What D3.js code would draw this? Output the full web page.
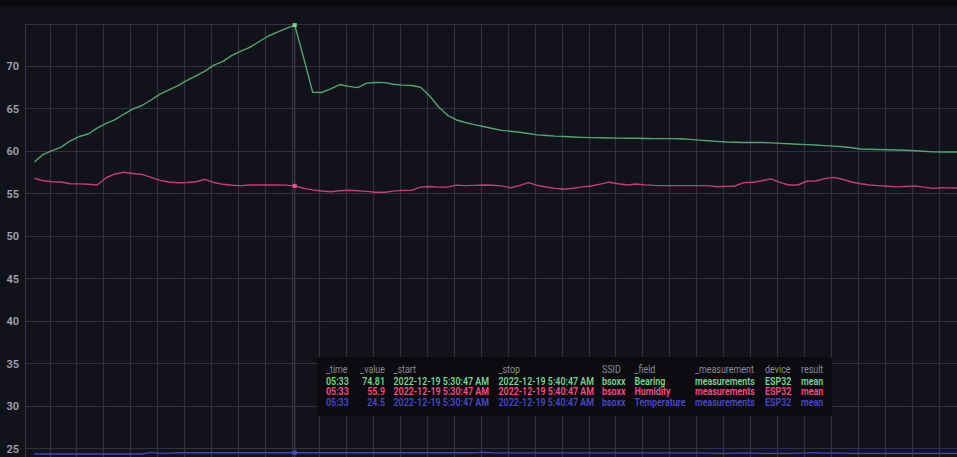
<!DOCTYPE html>
<html><head><meta charset="utf-8">
<script src="https://cdn.jsdelivr.net/npm/d3@7"></script>
<style>
html,body{margin:0;padding:0;background:#12121b;overflow:hidden;}
svg{display:block;}
</style></head>
<body>
<svg id="c" width="957" height="457"></svg>
<script>
// ---------- data ----------
const startTime = "2022-12-19T05:28:13";   // first sample
const stepSeconds = 10;
const hoverIndex = 29;                      // 05:33 sample under the cursor
const yTicks = [25, 30, 35, 40, 45, 50, 55, 60, 65, 70];

const bearing = [
  58.7, 59.6, 60.05, 60.45, 61.2, 61.7, 62.0, 62.7, 63.25, 63.7,
  64.35, 64.95, 65.35, 66.0, 66.7, 67.2, 67.7, 68.3, 68.85, 69.4,
  70.1, 70.55, 71.25, 71.75, 72.2, 72.85, 73.5, 73.95, 74.4, 74.81,
  70.9, 66.9, 66.88, 67.3, 67.82, 67.6, 67.45, 67.98, 68.06, 68.04,
  67.85, 67.75, 67.7, 67.5, 66.5, 65.2, 64.2, 63.65, 63.35, 63.1,
  62.88, 62.65, 62.42, 62.33, 62.2, 62.05, 61.9, 61.83, 61.75, 61.7,
  61.65, 61.6, 61.57, 61.55, 61.53, 61.51, 61.5, 61.5, 61.47, 61.45,
  61.45, 61.45, 61.44, 61.37, 61.28, 61.2, 61.13, 61.06, 61.02, 61.0,
  61.0, 61.0, 60.95, 60.9, 60.85, 60.8, 60.75, 60.7, 60.63, 60.57,
  60.5, 60.38, 60.23, 60.2, 60.17, 60.14, 60.11, 60.08, 60.03, 59.97,
  59.9, 59.89, 59.88, 59.87
];
const humidity = [
  56.78, 56.5, 56.38, 56.35, 56.15, 56.13, 56.08, 56.0, 56.85, 57.3,
  57.5, 57.35, 57.25, 56.9, 56.55, 56.35, 56.27, 56.3, 56.38, 56.67,
  56.3, 56.08, 55.97, 55.93, 56.0, 56.0, 56.0, 56.0, 55.98, 55.9,
  55.6, 55.43, 55.3, 55.2, 55.33, 55.38, 55.33, 55.25, 55.14, 55.15,
  55.28, 55.37, 55.37, 55.75, 55.82, 55.75, 55.75, 55.98, 55.92, 55.95,
  56.0, 55.97, 55.9, 55.68, 55.92, 56.27, 55.95, 55.76, 55.6, 55.5,
  55.62, 55.78, 55.88, 56.1, 56.33, 56.15, 56.0, 56.12, 56.02, 55.95,
  55.93, 55.92, 55.92, 55.92, 55.92, 55.92, 55.8, 55.84, 55.88, 56.28,
  56.33, 56.5, 56.72, 56.3, 56.0, 56.0, 56.44, 56.47, 56.75, 56.9,
  56.67, 56.35, 56.15, 56.0, 55.92, 55.85, 55.78, 55.83, 55.9, 55.75,
  55.6, 55.67, 55.66, 55.65
];
const temperature = [
  24.35, 24.35, 24.35, 24.35, 24.35, 24.35, 24.35, 24.35, 24.35, 24.35,
  24.35, 24.35, 24.35, 24.55, 24.42, 24.45, 24.5, 24.5, 24.5, 24.5,
  24.5, 24.5, 24.5, 24.5, 24.5, 24.5, 24.5, 24.5, 24.5, 24.5,
  24.5, 24.5, 24.5, 24.5, 24.5, 24.5, 24.5, 24.5, 24.5, 24.5,
  24.5, 24.5, 24.5, 24.5, 24.5, 24.5, 24.5, 24.5, 24.5, 24.5,
  24.55, 24.5, 24.48, 24.48, 24.48, 24.48, 24.48, 24.48, 24.48, 24.48,
  24.48, 24.48, 24.48, 24.48, 24.48, 24.48, 24.48, 24.48, 24.48, 24.48,
  24.48, 24.48, 24.48, 24.48, 24.48, 24.45, 24.43, 24.43, 24.45, 24.48,
  24.45, 24.43, 24.43, 24.43, 24.43, 24.45, 24.48, 24.5, 24.46, 24.48,
  24.45, 24.43, 24.43, 24.43, 24.43, 24.43, 24.43, 24.43, 24.43, 24.43,
  24.43, 24.43, 24.43, 24.43
];

const seriesNames = ["Bearing", "Humidity", "Temperature"];
const lineColors  = ["#55a372", "#c93b7c", "#4343c4"];
const textColors  = ["#79d493", "#ff4a86", "#4848cc"];

// tooltip table
const tipHeaders = ["_time", "_value", "_start", "_stop", "SSID", "_field", "_measurement", "device", "result"];
const tipTime    = "05:33";
const tipValues  = ["74.81", "55.9", "24.5"];
const tipStart   = "2022-12-19 5:30:47 AM";
const tipStop    = "2022-12-19 5:40:47 AM";
const tipSSID    = "bsoxx";
const tipMeas    = "measurements";
const tipDevice  = "ESP32";
const tipResult  = "mean";

// ---------- drawing ----------
const W = 957, H = 457;
const svg = d3.select("#c");
const plotLeft = 25, plotTop = 24;

const parse = d3.timeParse("%Y-%m-%dT%H:%M:%S");
const t0 = parse(startTime);
const times = bearing.map((_, i) => new Date(t0.getTime() + i * stepSeconds * 1000));

const refT = parse("2022-12-19T05:33:00").getTime();
const x = d3.scaleTime().domain([new Date(refT - 297300), new Date(refT + 740200)]).range([plotLeft, W]);
const y = d3.scaleLinear().domain([24, 74.94]).range([H, plotTop]);

// top dark band
svg.append("rect").attr("x", 0).attr("y", 0).attr("width", W).attr("height", 7).attr("fill", "#0b0b10");

const grid = svg.append("g");
const gridColor = "#32323f";
x.ticks(d3.timeSecond.every(30)).forEach(t => {
  const xx = Math.round(x(t)) + 0.5;
  grid.append("line").attr("x1", xx).attr("x2", xx)
    .attr("y1", plotTop).attr("y2", H).attr("stroke", gridColor).attr("stroke-width", 1.2);
});
grid.append("line").attr("x1", plotLeft + 0.5).attr("x2", plotLeft + 0.5).attr("y1", plotTop).attr("y2", H)
  .attr("stroke", gridColor).attr("stroke-width", 1.2);
[...yTicks, 74.94].forEach(v => {
  const yy = Math.round(y(v)) + 0.5;
  grid.append("line").attr("x1", plotLeft).attr("x2", W).attr("y1", yy).attr("y2", yy)
    .attr("stroke", gridColor).attr("stroke-width", 1.2);
});

// y axis labels
const yAxis = d3.axisLeft(y).tickValues(yTicks).tickSize(0).tickPadding(6);
const ga = svg.append("g").attr("transform", `translate(${plotLeft},0)`).call(yAxis);
ga.select(".domain").remove();
ga.selectAll("text").attr("fill", "#a3a3b0").style("font-family", "Roboto, sans-serif")
  .style("font-size", "11px").style("font-weight", "600");

// hover line
const hx = x(times[hoverIndex]);
svg.append("line").attr("x1", hx).attr("x2", hx).attr("y1", plotTop).attr("y2", H)
  .attr("stroke", "#3c3c4a").attr("stroke-width", 1.2);

svg.append("clipPath").attr("id", "clip").append("rect")
  .attr("x", plotLeft).attr("y", plotTop - 2).attr("width", W - plotLeft).attr("height", H - plotTop + 2);

const all = [bearing, humidity, temperature];
const line = d3.line().x((d, i) => x(times[i])).y(d => y(d));
const lg = svg.append("g").attr("clip-path", "url(#clip)");
all.forEach((s, k) => {
  lg.append("path").datum(s).attr("d", line).attr("fill", "none")
    .attr("stroke", lineColors[k]).attr("stroke-width", 1.4).attr("stroke-linejoin", "round");
});
all.forEach((s, k) => {
  lg.append("rect").attr("x", hx - 2).attr("y", y(s[hoverIndex]) - 2).attr("width", 4).attr("height", 4)
    .attr("fill", textColors[k]);
});

// tooltip
const tip = svg.append("g").style("font-family", "Roboto, sans-serif").style("font-size", "10px");
tip.append("rect").attr("x", 317).attr("y", 357).attr("width", 515).attr("height", 59)
  .attr("rx", 2).attr("fill", "#0b0b10");
const colX = [326, 385, 393.5, 498.5, 602, 634.5, 695, 765, 801];
const colAnchor = ["start", "end", "start", "start", "start", "start", "start", "start", "start"];
const sx = 0.89;
tipHeaders.forEach((h, j) => {
  tip.append("text").attr("transform", `translate(${colX[j]},372.5) scale(${sx},1)`)
    .attr("text-anchor", colAnchor[j]).attr("fill", "#8b8b99").text(h);
});
seriesNames.forEach((name, k) => {
  const row = [tipTime, tipValues[k], tipStart, tipStop, tipSSID, name, tipMeas, tipDevice, tipResult];
  const yy = 384.5 + k * 10.8;
  row.forEach((v, j) => {
    tip.append("text").attr("transform", `translate(${colX[j]},${yy}) scale(${sx},1)`)
      .attr("text-anchor", colAnchor[j]).attr("fill", textColors[k]).style("font-weight", "600").text(v);
  });
});
</script>
</body></html>
